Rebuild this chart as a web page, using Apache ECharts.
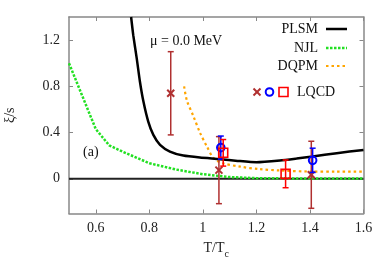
<!DOCTYPE html>
<html><head><meta charset="utf-8">
<script src="https://cdn.jsdelivr.net/npm/echarts@6/dist/echarts.min.js"></script>
<style>html,body{margin:0;padding:0;background:#fff}#c{width:389px;height:273px}</style>
</head><body><div id="c"></div>
<script>
// ---- data ----
const plsmT = [0.732, 0.74, 0.753, 0.765, 0.778, 0.796, 0.815, 0.84, 0.877, 0.927, 0.989, 1.064, 1.13, 1.2, 1.288, 1.35, 1.41, 1.5, 1.6];
const plsmV = [1.40, 1.243, 1.042, 0.84, 0.668, 0.495, 0.38, 0.294, 0.236, 0.201, 0.184, 0.17, 0.155, 0.143, 0.158, 0.175, 0.193, 0.222, 0.25];
const njlT = [0.5, 0.6, 0.65, 0.7, 0.8, 0.9, 1.0, 1.1, 1.2, 1.3, 1.4, 1.5, 1.6];
const njlV = [1.0, 0.43, 0.29, 0.235, 0.135, 0.08, 0.04, 0.015, 0.006, 0.004, 0.003, 0.003, 0.003];
const dqpmT = [0.93, 0.94, 0.965, 0.99, 1.015, 1.04, 1.075, 1.14, 1.21, 1.29, 1.4, 1.5, 1.6];
const dqpmV = [0.80, 0.68, 0.54, 0.395, 0.28, 0.18, 0.135, 0.105, 0.084, 0.072, 0.063, 0.062, 0.062];
const crossT = [0.88, 1.06, 1.405];
const crossV = [0.74, 0.075, 0.035];
const crossE = [0.36, 0.29, 0.29];
const circleT = [1.067, 1.41];
const circleV = [0.27, 0.16];
const circleE = [0.10, 0.105];
const squareT = [1.076, 1.309];
const squareV = [0.225, 0.043];
const squareE = [0.115, 0.12];
const xTicks = [0.6, 0.8, 1, 1.2, 1.4, 1.6];
const yTicks = [0, 0.4, 0.8, 1.2];

const FONT = 'Liberation Serif';
const AX = '#888';
const zip = (a, b) => a.map((v, i) => [v, b[i]]);
const zip3 = (a, b, c) => a.map((v, i) => [v, b[i], c[i]]);

function errRender(kind, color) {
  return function (params, api) {
    const x = api.value(0), y = api.value(1), e = api.value(2);
    const p = api.coord([x, y]);
    const pt = api.coord([x, y + e]);
    const pb = api.coord([x, y - e]);
    const cw = 3;
    const st = { stroke: color, lineWidth: 1.5, fill: null };
    const ch = [
      { type: 'line', shape: { x1: p[0], y1: pt[1], x2: p[0], y2: pb[1] }, style: st },
      { type: 'line', shape: { x1: p[0] - cw, y1: pt[1], x2: p[0] + cw, y2: pt[1] }, style: st },
      { type: 'line', shape: { x1: p[0] - cw, y1: pb[1], x2: p[0] + cw, y2: pb[1] }, style: st }
    ];
    const s2 = { stroke: color, lineWidth: 2, fill: null };
    if (kind === 'x') {
      const r = 3.5;
      ch.push({ type: 'line', shape: { x1: p[0] - r, y1: p[1] - r, x2: p[0] + r, y2: p[1] + r }, style: s2 });
      ch.push({ type: 'line', shape: { x1: p[0] - r, y1: p[1] + r, x2: p[0] + r, y2: p[1] - r }, style: s2 });
    } else if (kind === 'o') {
      ch.push({ type: 'circle', shape: { cx: p[0], cy: p[1], r: 3.8 }, style: s2 });
    } else {
      ch.push({ type: 'rect', shape: { x: p[0] - 4.5, y: p[1] - 4.5, width: 9, height: 9 }, style: { stroke: color, lineWidth: 1.6, fill: null } });
    }
    return { type: 'group', children: ch };
  };
}

const chart = echarts.init(document.getElementById('c'), null, { renderer: 'canvas' });
const axisCommon = {
  type: 'value',
  axisLine: { show: true, onZero: false, lineStyle: { color: AX, width: 1.5 } },
  splitLine: { show: false },
  axisTick: { show: true, inside: true, length: 4, lineStyle: { color: AX, width: 1 } }
};
const labelStyle = { fontFamily: FONT, fontSize: 14, color: '#222' };

// legend graphics
const legendItems = [];
const LX = 318, LS1 = 326, LS2 = 347;
legendItems.push({ type: 'text', style: { text: 'PLSM', x: LX, y: 29, align: 'right', verticalAlign: 'middle', font: '14px ' + FONT, fill: '#111' } });
legendItems.push({ type: 'line', shape: { x1: LS1, y1: 29, x2: LS2, y2: 29 }, style: { stroke: '#000', lineWidth: 2.5 } });
legendItems.push({ type: 'text', style: { text: 'NJL', x: LX, y: 48, align: 'right', verticalAlign: 'middle', font: '14px ' + FONT, fill: '#111' } });
legendItems.push({ type: 'line', shape: { x1: LS1, y1: 48, x2: LS2, y2: 48 }, style: { stroke: '#22e022', lineWidth: 2.5, lineDash: [2.5, 1.5] } });
legendItems.push({ type: 'text', style: { text: 'DQPM', x: LX, y: 66, align: 'right', verticalAlign: 'middle', font: '14px ' + FONT, fill: '#111' } });
legendItems.push({ type: 'line', shape: { x1: LS1, y1: 66, x2: LS2, y2: 66 }, style: { stroke: '#ffa500', lineWidth: 2.2, lineDash: [2.5, 3] } });
legendItems.push({ type: 'line', shape: { x1: 253.5, y1: 88.5, x2: 260.5, y2: 95.5 }, style: { stroke: '#b03030', lineWidth: 2 } });
legendItems.push({ type: 'line', shape: { x1: 253.5, y1: 95.5, x2: 260.5, y2: 88.5 }, style: { stroke: '#b03030', lineWidth: 2 } });
legendItems.push({ type: 'circle', shape: { cx: 269.5, cy: 92, r: 3.8 }, style: { stroke: '#0000ff', lineWidth: 2, fill: null } });
legendItems.push({ type: 'rect', shape: { x: 279, y: 87.5, width: 9, height: 9 }, style: { stroke: '#ff0000', lineWidth: 1.6, fill: null } });
legendItems.push({ type: 'text', style: { text: 'LQCD', x: 297, y: 92, align: 'left', verticalAlign: 'middle', font: '14px ' + FONT, fill: '#111' } });
legendItems.push({ type: 'text', style: { text: 'μ = 0.0 MeV', x: 150, y: 41, align: 'left', verticalAlign: 'middle', font: '14px ' + FONT, fill: '#111' } });
legendItems.push({ type: 'text', style: { text: '(a)', x: 83, y: 152, align: 'left', verticalAlign: 'middle', font: '14px ' + FONT, fill: '#111' } });

chart.setOption({
  animation: false,
  backgroundColor: '#fff',
  grid: { left: 69, right: 25.5, top: 17, bottom: 59.5, containLabel: false, outerBoundsMode: 'none' },
  xAxis: [
    Object.assign({}, axisCommon, {
      position: 'bottom', min: 0.5, max: 1.6,
      axisTick: Object.assign({}, axisCommon.axisTick, { customValues: xTicks }),
      axisLabel: Object.assign({}, labelStyle, { customValues: xTicks, margin: 8, formatter: v => String(+v.toFixed(2)) }),
      name: '{a|T/T}{b|c}', nameLocation: 'middle', nameGap: 28,
      nameTextStyle: { rich: { a: { fontFamily: FONT, fontSize: 14, color: '#222' }, b: { fontFamily: FONT, fontSize: 10, color: '#222', verticalAlign: 'bottom', padding: [0, 0, -4, 0] } } }
    }),
    Object.assign({}, axisCommon, {
      position: 'top', min: 0.5, max: 1.6,
      axisTick: Object.assign({}, axisCommon.axisTick, { customValues: xTicks }),
      axisLabel: { show: false }
    })
  ],
  yAxis: [
    Object.assign({}, axisCommon, {
      position: 'left', min: -0.3, max: 1.4,
      axisTick: Object.assign({}, axisCommon.axisTick, { customValues: yTicks }),
      axisLabel: Object.assign({}, labelStyle, { customValues: yTicks, margin: 9, formatter: v => String(+v.toFixed(2)) }),
      name: 'ξ/s', nameLocation: 'middle', nameGap: 52, nameRotate: 90,
      nameTextStyle: { fontFamily: FONT, fontSize: 14, color: '#222' }
    }),
    Object.assign({}, axisCommon, {
      position: 'right', min: -0.3, max: 1.4,
      axisTick: Object.assign({}, axisCommon.axisTick, { customValues: yTicks }),
      axisLabel: { show: false }
    })
  ],
  graphic: legendItems,
  series: [
    {
      type: 'line', name: 'zero', data: [[0.5, 0], [1.6, 0]], symbol: 'none',
      lineStyle: { color: '#222', width: 2 }, z: 1, silent: true
    },
    {
      type: 'line', name: 'NJL', data: zip(njlT, njlV), symbol: 'none',
      lineStyle: { color: '#22e022', width: 2.5, type: [2.5, 1.5] }, z: 3
    },
    {
      type: 'line', name: 'DQPM', data: zip(dqpmT, dqpmV), symbol: 'none', smooth: 0.3,
      lineStyle: { color: '#ffa500', width: 2.2, type: [2.5, 3] }, z: 3
    },
    {
      type: 'line', name: 'PLSM', data: zip(plsmT, plsmV), symbol: 'none', smooth: 0.2,
      lineStyle: { color: '#000', width: 2.5 }, z: 4
    },
    { type: 'custom', name: 'LQCD x', data: zip3(crossT, crossV, crossE), renderItem: errRender('x', '#b03030'), z: 5, clip: false },
    { type: 'custom', name: 'LQCD o', data: zip3(circleT, circleV, circleE), renderItem: errRender('o', '#0000ff'), z: 6, clip: false },
    { type: 'custom', name: 'LQCD s', data: zip3(squareT, squareV, squareE), renderItem: errRender('s', '#ff0000'), z: 7, clip: false }
  ]
});
</script>
</body></html>
